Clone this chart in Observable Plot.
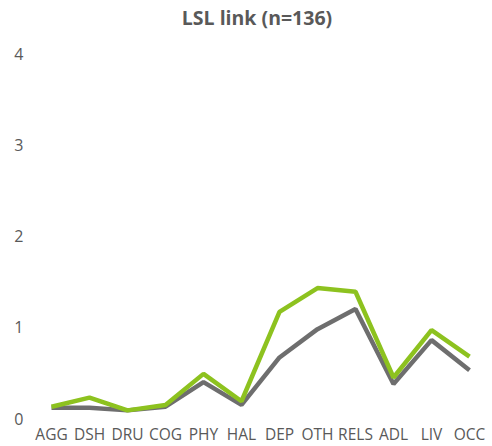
<!DOCTYPE html>
<html><head><meta charset="utf-8">
<script src="https://cdn.jsdelivr.net/npm/d3@7"></script>
<script src="https://cdn.jsdelivr.net/npm/@observablehq/plot@0.6"></script>
<style>
body{margin:0;background:#fff;font-family:"Open Sans",sans-serif;}
#title{width:492px;height:36px;line-height:36px;text-align:center;font-weight:bold;font-size:19.5px;color:#595959;padding-left:22px;box-sizing:border-box;}
</style></head>
<body>
<div id="title">LSL link (n=136)</div>
<div id="chart"></div>
<script>
const categories = ["AGG","DSH","DRU","COG","PHY","HAL","DEP","OTH","RELS","ADL","LIV","OCC"];
const grayValues = [0.13,0.13,0.10,0.14,0.41,0.16,0.68,0.99,1.21,0.39,0.87,0.54];
const greenValues = [0.14,0.24,0.10,0.16,0.50,0.20,1.18,1.44,1.40,0.46,0.98,0.69];
const yTicks = [0,1,2,3,4];

const grayData = categories.map((c,i)=>({cat:c, v:grayValues[i]}));
const greenData = categories.map((c,i)=>({cat:c, v:greenValues[i]}));

const chart = Plot.plot({
  width: 492,
  height: 410,
  marginTop: 18,
  marginBottom: 27,
  marginLeft: 31,
  marginRight: 4,
  style: {fontFamily: '"Open Sans", sans-serif', fontSize: "15px", color: "#595959", background: "#fff"},
  x: {type: "point", domain: categories, padding: 0.5, label: null},
  y: {domain: [0,4], ticks: yTicks, label: null},
  marks: [
    Plot.axisX({tickSize: 0, tickPadding: 9, fontSize: 15.5, fill: "#595959", label: null}),
    Plot.axisY({ticks: yTicks, tickSize: 0, tickPadding: 8, fontSize: 16, fill: "#595959", label: null, tickFormat: d3.format("d")}),
    Plot.line(grayData, {x: "cat", y: "v", stroke: "#6e6e6e", strokeWidth: 4.5, strokeLinejoin: "miter", strokeLinecap: "butt"}),
    Plot.line(greenData, {x: "cat", y: "v", stroke: "#8dc21f", strokeWidth: 4.5, strokeLinejoin: "miter", strokeLinecap: "butt"})
  ]
});
document.getElementById("chart").appendChild(chart);
</script>
</body></html>
